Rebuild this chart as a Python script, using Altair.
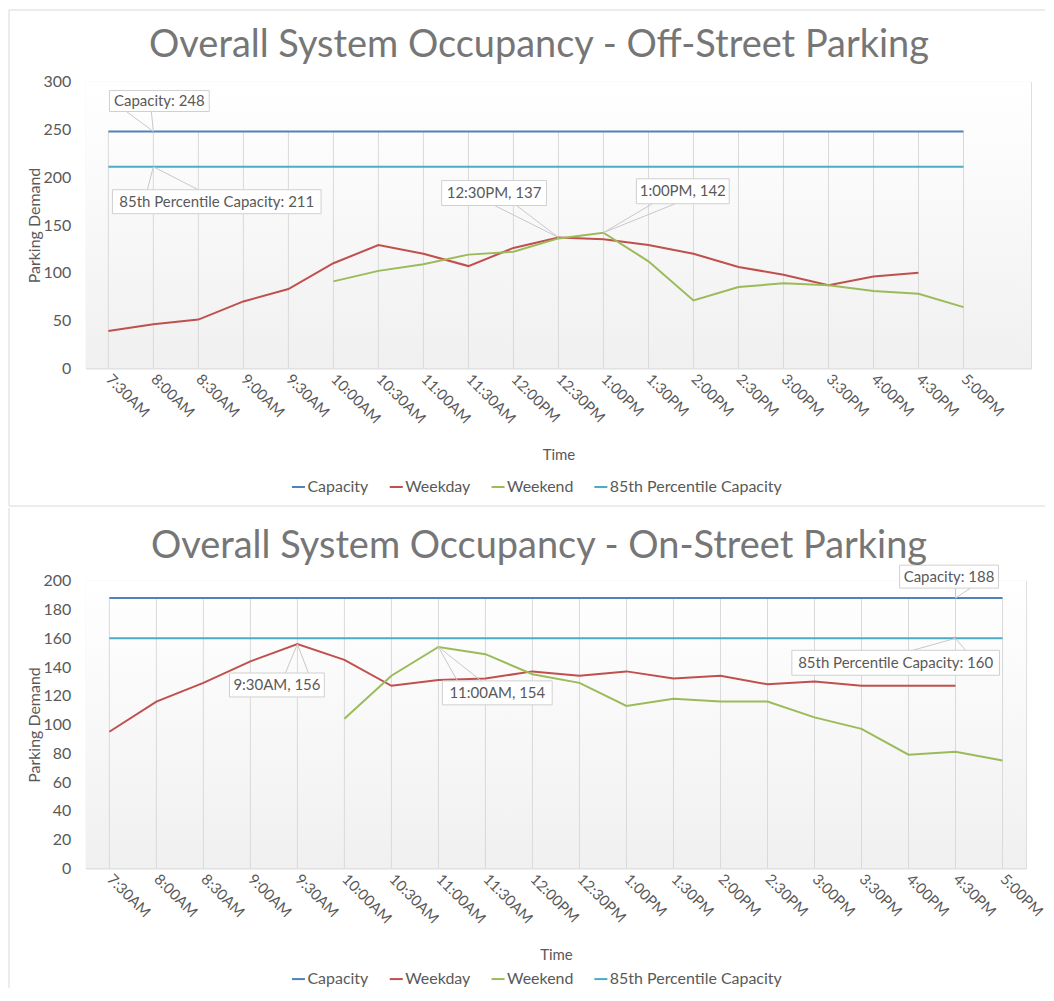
import altair as alt
import pandas as pd

# ---------------- data ----------------
TIMES = ["7:30AM", "8:00AM", "8:30AM", "9:00AM", "9:30AM", "10:00AM", "10:30AM",
         "11:00AM", "11:30AM", "12:00PM", "12:30PM", "1:00PM", "1:30PM", "2:00PM",
         "2:30PM", "3:00PM", "3:30PM", "4:00PM", "4:30PM", "5:00PM"]
SERIES = ["Capacity", "Weekday", "Weekend", "85th Percentile Capacity"]
COLORS = ["#4F81BD", "#C0504D", "#9BBB59", "#4BACC6"]

OFF_TITLE = "Overall System Occupancy - Off-Street Parking"
OFF_CAPACITY = 248
OFF_P85 = 211
OFF_WEEKDAY = [39, 46, 51, 70, 83, 110, 129, 120, 107, 126, 137, 135, 129, 120, 106, 98, 87, 96, 100, None]
OFF_WEEKEND = [None, None, None, None, None, 91, 102, 109, 119, 122, 136, 142, 112, 71, 85, 89, 87, 81, 78, 64]

ON_TITLE = "Overall System Occupancy - On-Street Parking"
ON_CAPACITY = 188
ON_P85 = 160
ON_WEEKDAY = [95, 116, 129, 144, 156, 145, 127, 131, 132, 137, 134, 137, 132, 134, 128, 130, 127, 127, 127, None]
ON_WEEKEND = [None, None, None, None, None, 104, 134, 154, 149, 135, 129, 113, 118, 116, 116, 105, 97, 79, 81, 75]

GREY = "#595959"
FONT = "Lato"
ONE = pd.DataFrame({"k": [0]})


def build_panel(title, weekday, weekend, cap, p85, ymax, ystep, nslots, W, H,
                callouts, title_y, frame_top, frame_bottom, legend_y):
    px_idx = W / nslots
    px_val = H / ymax
    xdom = [-0.5, nslots - 0.5]
    label_expr = "[" + ",".join("'%s'" % t for t in TIMES) + "][datum.value]"
    x_axis = alt.Axis(values=list(range(len(TIMES))), labelExpr=label_expr, labelAngle=45,
                      labelAlign="left", labelBaseline="middle", labelPadding=8,
                      labelOverlap=False, labelBound=False,
                      labelFontSize=15, labelColor=GREY, labelFont=FONT, ticks=False, grid=False,
                      domainColor="#d9d9d9", domainWidth=1, title="Time", titleY=86,
                      titleBaseline="middle", titleFontSize=15, titleColor=GREY,
                      titleFont=FONT, titleFontWeight="normal")
    y_axis = alt.Axis(values=list(range(0, ymax + 1, ystep)), grid=False, domain=False,
                      ticks=False, labelPadding=15, labelFontSize=16, labelColor=GREY,
                      labelFont=FONT, title="Parking Demand", titleX=-51, titleY=H / 2,
                      titleAlign="center", titleBaseline="middle", titleFontSize=16,
                      titleColor=GREY, titleFont=FONT, titleFontWeight="normal")
    xs = alt.Scale(domain=xdom, nice=False, zero=False)
    ys = alt.Scale(domain=[0, ymax], nice=False, zero=False)

    def X(f):
        return alt.X(f + ":Q", scale=xs, axis=x_axis)

    def Y(f):
        return alt.Y(f + ":Q", scale=ys, axis=y_axis)

    # series table
    rows = []
    for i in range(len(TIMES)):
        rows.append({"x": i, "y": cap, "series": "Capacity"})
        if weekday[i] is not None:
            rows.append({"x": i, "y": weekday[i], "series": "Weekday"})
        if weekend[i] is not None:
            rows.append({"x": i, "y": weekend[i], "series": "Weekend"})
        rows.append({"x": i, "y": p85, "series": "85th Percentile Capacity"})
    series_df = pd.DataFrame(rows)
    drop_df = pd.DataFrame({"x": list(range(len(TIMES))), "y": [0] * len(TIMES),
                            "y2": [cap] * len(TIMES)})

    # callouts
    boxes, leaders = [], []
    for label, idx, val, box, lead in callouts:
        l, r, t, b = box
        boxes.append({"x": idx + l / px_idx, "x2": idx + r / px_idx,
                      "y": val - t / px_val, "y2": val - b / px_val,
                      "tx": idx + (l + r) / 2 / px_idx, "ty": val - (t + b) / 2 / px_val,
                      "label": label})
        for dx, dy in lead:
            leaders.append({"x": idx, "y": val, "x2": idx + dx / px_idx, "y2": val - dy / px_val})
    box_df = pd.DataFrame(boxes)
    lead_df = pd.DataFrame(leaders)

    background = alt.Chart(ONE).mark_rect(
        fill=alt.LinearGradient(gradient="linear",
                                stops=[alt.GradientStop(color="#ffffff", offset=0),
                                       alt.GradientStop(color="#fbfbfb", offset=0.3),
                                       alt.GradientStop(color="#f0f0f0", offset=1)],
                                x1=0, x2=0, y1=0, y2=1)
    ).encode(x=alt.value(0), x2=alt.value(W), y=alt.value(0), y2=alt.value(H))

    drops = alt.Chart(drop_df).mark_rule(color="#d9d9d9", strokeWidth=1).encode(
        x=X("x"), y=Y("y"), y2="y2:Q")

    lines = alt.Chart(series_df).mark_line(strokeWidth=2).encode(
        x=X("x"), y=Y("y"),
        color=alt.Color("series:N",
                        scale=alt.Scale(domain=SERIES, range=COLORS),
                        legend=alt.Legend(orient="none", legendX=205, legendY=legend_y,
                                          direction="horizontal", title=None,
                                          symbolType="stroke", symbolStrokeWidth=2,
                                          symbolSize=170, labelFontSize=16, labelColor=GREY,
                                          labelFont=FONT, labelLimit=0, columnPadding=16,
                                          labelOffset=1)))

    lead_rules = alt.Chart(lead_df).mark_rule(color="#c8c8c8", strokeWidth=1).encode(
        x=X("x"), y=Y("y"), x2="x2:Q", y2="y2:Q")

    box_rects = alt.Chart(box_df).mark_rect(fill="white", stroke="#d0d0d0", strokeWidth=1).encode(
        x=X("x"), x2="x2:Q", y=Y("y"), y2="y2:Q")

    box_text = alt.Chart(box_df).mark_text(fontSize=15, color=GREY, font=FONT,
                                           align="center", baseline="middle").encode(
        x=X("tx"), y=Y("ty"), text="label:N")

    title_mark = alt.Chart(ONE).mark_text(text=title, fontSize=38, color="#767676", font=FONT,
                                          align="center", baseline="alphabetic").encode(
        x=alt.value(454), y=alt.value(title_y))

    layers = [background, drops, lines, lead_rules, box_rects, box_text, title_mark]

    frame_left = alt.Chart(ONE).mark_rule(color="#d9d9d9", strokeWidth=1).encode(
        x=alt.value(-77), y=alt.value(frame_top), y2=alt.value(frame_bottom))
    layers.append(frame_left)
    if frame_top == -72:
        frame_t = alt.Chart(ONE).mark_rule(color="#d9d9d9", strokeWidth=1).encode(
            x=alt.value(-77), x2=alt.value(961), y=alt.value(frame_top))
        frame_b = alt.Chart(ONE).mark_rule(color="#d9d9d9", strokeWidth=1).encode(
            x=alt.value(-77), x2=alt.value(961), y=alt.value(frame_bottom))
        layers += [frame_t, frame_b]

    return alt.layer(*layers).properties(width=W, height=H)


off_callouts = [
    ("Capacity: %d" % OFF_CAPACITY, 1, OFF_CAPACITY, (-44, 56, -41, -20), [(-27, -20), (-2, -20)]),
    ("85th Percentile Capacity: %d" % OFF_P85, 1, OFF_P85, (-41, 168, 23, 47), [(-6, 23), (45, 23)]),
    ("%s, %d" % (TIMES[10], OFF_WEEKDAY[10]), 10, OFF_WEEKDAY[10], (-117, -12, -57, -32), [(-64, -32), (-42, -32)]),
    ("%s, %d" % (TIMES[11], OFF_WEEKEND[11]), 11, OFF_WEEKEND[11], (33, 126, -54, -29), [(49, -29), (72, -29)]),
]
on_callouts = [
    ("Capacity: %d" % ON_CAPACITY, 18, ON_CAPACITY, (-56, 43, -33, -10), [(0, -10), (15, -10)]),
    ("85th Percentile Capacity: %d" % ON_P85, 18, ON_P85, (-164, 44, 12, 37), [(-43, 12), (10, 12)]),
    ("%s, %d" % (TIMES[4], ON_WEEKDAY[4]), 4, ON_WEEKDAY[4], (-68, 27, 29, 53), [(-12, 29), (11, 29)]),
    ("%s, %d" % (TIMES[7], ON_WEEKEND[7]), 7, ON_WEEKEND[7], (4, 114, 34, 58), [(19, 34), (43, 34)]),
]

top = build_panel(OFF_TITLE, OFF_WEEKDAY, OFF_WEEKEND, OFF_CAPACITY, OFF_P85, 300, 50, 21,
                  947, 287, off_callouts, -25, -72, 425, 398)
bottom = build_panel(ON_TITLE, ON_WEEKDAY, ON_WEEKEND, ON_CAPACITY, ON_P85, 200, 20, 20,
                     942, 288, on_callouts, -23, -73, 408, 391)

chart = alt.vconcat(top, bottom, spacing=0).resolve_scale(color="independent").resolve_legend(
    color="independent").configure_view(stroke=None).configure(font=FONT).properties(padding=0)

chart.save("out.html", embed_options={"renderer": "svg", "actions": False})
